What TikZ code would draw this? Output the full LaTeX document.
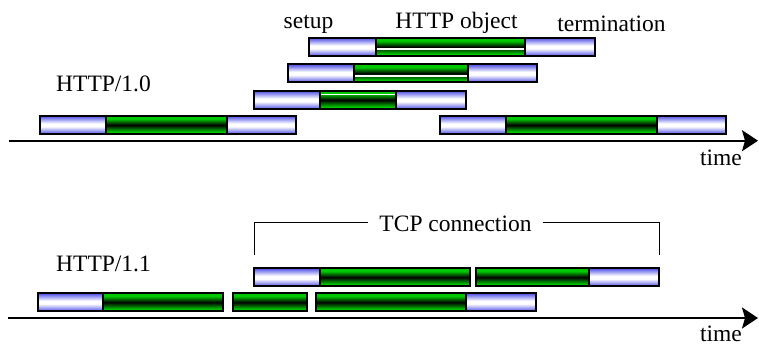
\documentclass[tikz,border=0pt]{standalone}
\usepackage{fontspec}
\setmainfont{Liberation Serif}
\usetikzlibrary{arrows.meta}

\definecolor{barblue}{RGB}{80,80,230}
\definecolor{bargreen}{RGB}{0,200,0}

% setup / termination segments: blue edges, white centre
\pgfdeclareverticalshading{setupshade}{100bp}{color(0bp)=(barblue); color(25bp)=(barblue); color(46bp)=(white); color(54bp)=(white); color(75bp)=(barblue); color(100bp)=(barblue)}
% object transfer segments: green edges, dark centre band
\pgfdeclareverticalshading{objshade}{100bp}{color(0bp)=(bargreen); color(31bp)=(bargreen); color(50bp)=(black); color(67bp)=(bargreen); color(100bp)=(bargreen)}

\tikzset{
  segbox/.style={draw, line width=2pt, inner sep=0pt, outer sep=0pt, minimum height=18pt},
  ends/.style={segbox, shade, shading=setupshade},
  obj/.style={segbox, shade, shading=objshade},
  lbl/.style={font=\fontsize{23.5}{28}\selectfont, inner sep=0pt, anchor=base},
  timeaxis/.style={line width=1.8pt, -{Stealth[length=16pt,width=21pt,inset=3pt]}},
  split/.style={white, line width=1.1pt},
  bracket/.style={line width=1pt},
}

% #1 style, #2 name, #3 left x, #4 right x, #5 centre y
\newcommand\barpart[5]{\node[#1, minimum width={(#4)-(#3)}] (#2) at ({((#3)+(#4))/2},#5) {};}

\begin{document}
\begin{tikzpicture}[x=1pt,y=-1pt]
\useasboundingbox (0,0) rectangle (759,344);

% ---------------- HTTP/1.0 ----------------
\barpart{ends}{ra1}{309}{376}{47}
\barpart{obj}{ro1}{376}{525}{47}
\barpart{ends}{rt1}{525}{595}{47}

\barpart{ends}{ra2}{288}{354}{73.4}
\barpart{obj}{ro2}{354}{468}{73.4}
\barpart{ends}{rt2}{468}{537}{73.4}

\barpart{ends}{ra3}{254}{320}{100}
\barpart{obj}{ro3}{320}{396}{100}
\barpart{ends}{rt3}{396}{466}{100}

\barpart{ends}{ra4}{40}{106}{125}
\barpart{obj}{ro4}{106}{227}{125}
\barpart{ends}{rt4}{227}{296}{125}

\barpart{ends}{ra5}{440}{506}{125}
\barpart{obj}{ro5}{506}{657}{125}
\barpart{ends}{rt5}{657}{726}{125}

% thin white split lines in the overlapping transfers
\draw[split] ([xshift=1pt,yshift=-2pt]ro1.west) -- ([xshift=-1pt,yshift=-2pt]ro1.east);
\draw[split] ([xshift=1pt,yshift=-2.6pt]ro2.west) -- ([xshift=-1pt,yshift=-2.6pt]ro2.east);
\draw[split] ([xshift=1pt,yshift=5.7pt]ro3.west) -- ([xshift=-1pt,yshift=5.7pt]ro3.east);

\coordinate (axA0) at (9,140.7);
\coordinate (axA1) at (758,140.7);
\draw[timeaxis] (axA0) -- (axA1);

\node[lbl] (setup) at (308.5,28.3) {setup};
\node[lbl] (object) at (456.5,28.3) {HTTP object};
\node[lbl] (termination) at (611.5,32) {termination};
\node[lbl, anchor=base west] (v10) at (56,92) {HTTP/1.0};
\node[lbl] (timeA) at (721,166) {time};

% ---------------- HTTP/1.1 ----------------
\barpart{ends}{pa1}{254}{320}{277.3}
\barpart{obj}{po1}{320}{470}{277.3}
\barpart{obj}{po2}{476}{589}{277.3}
\barpart{ends}{pt2}{589}{659}{277.3}

\barpart{ends}{qa1}{38.3}{103}{302.3}
\barpart{obj}{qo1}{103}{223}{302.3}
\barpart{obj}{qo2}{233.3}{307.3}{302.3}
\barpart{obj}{qo3}{316}{466}{302.3}
\barpart{ends}{qt3}{466}{535.7}{302.3}

\coordinate (axB0) at (8.3,318);
\coordinate (axB1) at (758,318);
\draw[timeaxis] (axB0) -- (axB1);

\node[lbl, anchor=base west] (v11) at (56,271) {HTTP/1.1};
\node[lbl, inner xsep=11pt] (tcp) at (455.5,232) {TCP connection};
\node[lbl] (timeB) at (721,341.3) {time};

\coordinate (brL) at (254.3,254.7);
\coordinate (brR) at (659.3,254.7);
\draw[bracket] ([yshift=1.5pt]tcp.west) -| (brL);
\draw[bracket] ([yshift=1.5pt]tcp.east) -| (brR);
\end{tikzpicture}
\end{document}
